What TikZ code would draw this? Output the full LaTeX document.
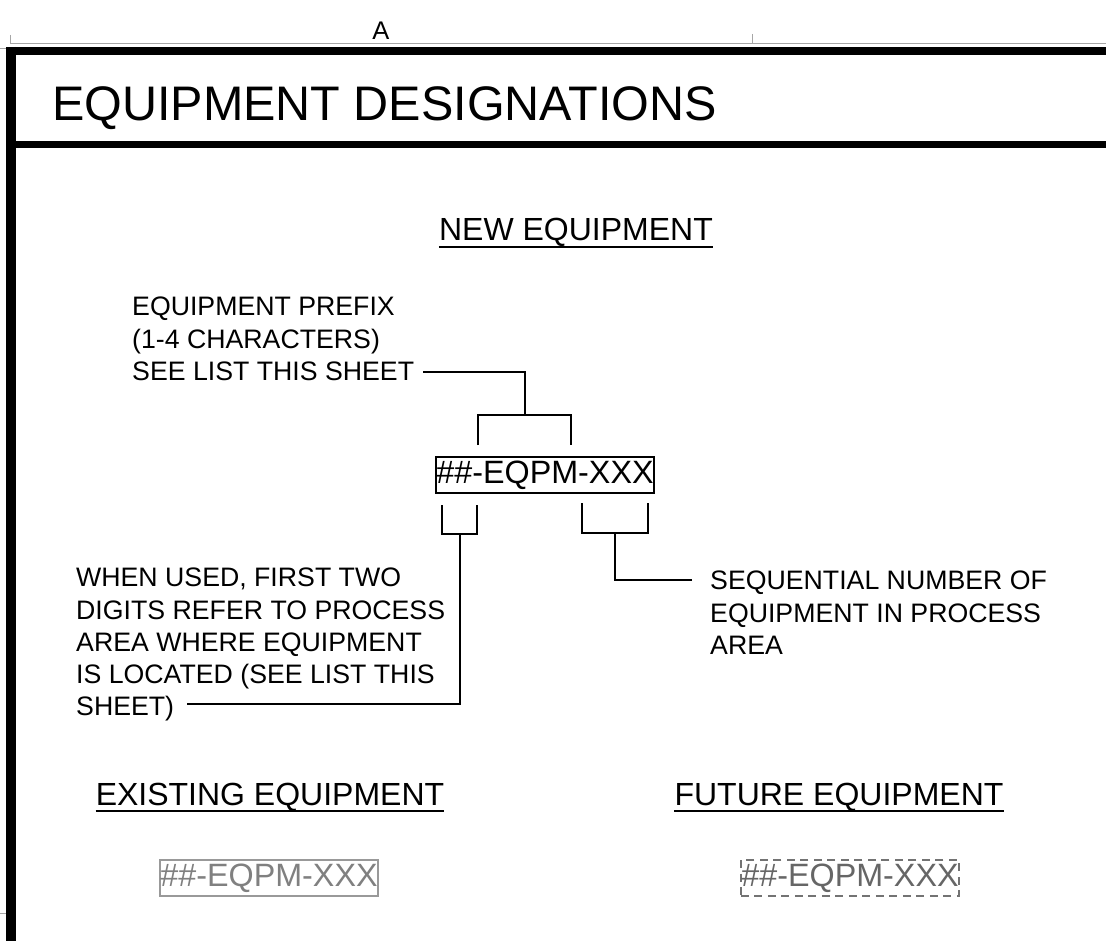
\documentclass[tikz,border=0pt]{standalone}
\usepackage{fontspec}
\setmainfont{Liberation Sans}
\begin{document}
\begin{tikzpicture}[x=1pt,y=-1pt,
  frame/.style={line width=#1,line cap=butt},
  thin/.style={draw=gray!70,line width=1pt},
  lead/.style={draw=black,line width=1.8pt},
  lbl/.style={inner sep=0pt,align=left,font=\fontsize{26.7}{32.2}\selectfont},
  head/.style={inner sep=0pt,font=\fontsize{32}{36}\selectfont},
  code/.style={inner xsep=0.5pt,inner ysep=0pt,minimum height=36pt,font=\fontsize{32.3}{36}\selectfont}]
\useasboundingbox (0,0) rectangle (1106,941);
% thin sheet lines
\draw[thin] (10,44) -- (1106,44);
\draw[thin] (10,35) -- (10,44);
\draw[thin] (752,34) -- (752,44);
\draw[thin] (0,49) -- (10,49);
\draw[thin] (0,913) -- (6,913);
\node[inner sep=0pt,anchor=base,font=\fontsize{25.5}{28}\selectfont] (zone) at (381,40) {A};
% heavy frame
\draw[frame=8pt] (6,51) -- (1106,51);
\draw[frame=7pt] (6,145) -- (1106,145);
\draw[frame=10pt] (11,47) -- (11,941);
\node[inner sep=0pt,anchor=base west,font=\fontsize{48.5}{56}\selectfont] (title) at (52,121) {EQUIPMENT DESIGNATIONS};
% headings
\node[head,anchor=base] (hnew) at (576,241) {NEW EQUIPMENT};
\draw[line width=1.5pt] ([yshift=-6pt]hnew.base west) -- ([yshift=-6pt]hnew.base east);
\node[head,anchor=base] (hexist) at (270,805) {EXISTING EQUIPMENT};
\draw[line width=1.5pt] ([yshift=-6pt]hexist.base west) -- ([yshift=-6pt]hexist.base east);
\node[head,anchor=base] (hfut) at (839,805) {FUTURE EQUIPMENT};
\draw[line width=1.5pt] ([yshift=-6pt]hfut.base west) -- ([yshift=-6pt]hfut.base east);
% codes
\node[code,draw,line width=1.8pt] (new) at (545,475) {\#\#-EQPM-XXX};
\node[code,draw=gray!80,text=gray,line width=1.5pt] (exist) at (269,878) {\#\#-EQPM-XXX};
\node[code,draw=black!55,text=black!60,line width=1.5pt,dash pattern=on 8pt off 5.5pt] (fut) at (850,878) {\#\#-EQPM-XXX};
% labels
\node[lbl,anchor=north west] (prefix) at (132,297) {EQUIPMENT PREFIX\\(1-4 CHARACTERS)\\SEE LIST THIS SHEET};
\node[lbl,anchor=north west] (area) at (76,568) {WHEN USED, FIRST TWO\\DIGITS REFER TO PROCESS\\AREA WHERE EQUIPMENT\\IS LOCATED (SEE LIST THIS\\SHEET)};
\node[lbl,anchor=north west] (seq) at (710,571) {SEQUENTIAL NUMBER OF\\EQUIPMENT IN PROCESS\\AREA};
% brackets
\coordinate (pl) at (423,372);
\coordinate (al) at (187,704);
\coordinate (sl) at (692,580);
\draw[lead] (478,445) -- (478,415) -- (571,415) -- (571,445);
\draw[lead] (pl) -- (525,372) -- (525,415);
\draw[lead] (442,505) -- (442,534) -- (477,534) -- (477,505);
\draw[lead] (al) -- (460,704) -- (460,534);
\draw[lead] (582,503) -- (582,533) -- (648,533) -- (648,503);
\draw[lead] (sl) -- (615,580) -- (615,533);
\end{tikzpicture}
\end{document}
